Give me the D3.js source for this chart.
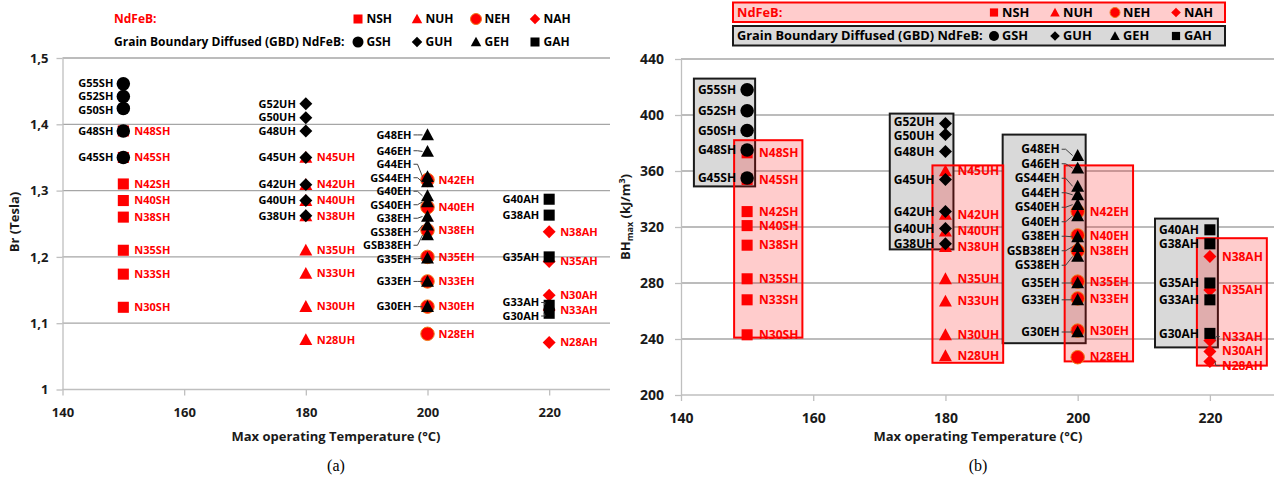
<!DOCTYPE html>
<html>
<head>
<meta charset="utf-8">
<script src="https://cdn.jsdelivr.net/npm/d3@7"></script>
<style>
  body { margin: 0; background: #fff; }
  svg { display: block; font-family: "Open Sans", "DejaVu Sans", sans-serif; }
</style>
</head>
<body>
<svg id="chart" width="1274" height="484"></svg>
<script>
// ---- Max operating temperature of each grade family (°C) ----
const tempSH = 150, tempUH = 180, tempEH = 200, tempAH = 220;

// ---- Conventional sintered NdFeB: remanence Br (T) and BHmax (kJ/m³) ----
const nshNames = ["N48SH", "N45SH", "N42SH", "N40SH", "N38SH", "N35SH", "N33SH", "N30SH"];
const nshBr = [1.39, 1.35, 1.31, 1.285, 1.26, 1.21, 1.174, 1.124];
const nshBH = [373, 354, 331, 321, 307, 283, 268, 243];

const nuhNames = ["N45UH", "N42UH", "N40UH", "N38UH", "N35UH", "N33UH", "N30UH", "N28UH"];
const nuhBr = [1.35, 1.309, 1.285, 1.262, 1.21, 1.175, 1.125, 1.075];
const nuhBH = [360, 329, 317, 306, 283, 267, 243, 228];

const nehNames = ["N42EH", "N40EH", "N38EH", "N35EH", "N33EH", "N30EH", "N28EH"];
const nehBr = [1.316, 1.275, 1.24, 1.2, 1.163, 1.125, 1.084];
const nehBH = [331, 314, 303, 281, 269, 246, 227];

const nahNames = ["N38AH", "N35AH", "N33AH", "N30AH", "N28AH"];
const nahBr = [1.238, 1.193, 1.12, 1.142, 1.071];
const nahBH = [299, 275, 239, 231, 224];

// ---- Grain boundary diffused (GBD) NdFeB ----
const gshNames = ["G55SH", "G52SH", "G50SH", "G48SH", "G45SH"];
const gshBr = [1.461, 1.442, 1.424, 1.39, 1.35];
const gshBH = [418, 403, 389, 375, 355];

const guhNames = ["G52UH", "G50UH", "G48UH", "G45UH", "G42UH", "G40UH", "G38UH"];
const guhBr = [1.431, 1.41, 1.39, 1.35, 1.309, 1.285, 1.262];
const guhBH = [394, 386, 374, 354, 331, 319, 308];

const gehNames = ["G48EH", "G46EH", "G44EH", "GS44EH", "G40EH", "GS40EH", "G38EH", "GS38EH", "GSB38EH", "G35EH", "G33EH", "G30EH"];
const gehBr = [1.384, 1.359, 1.321, 1.313, 1.292, 1.283, 1.261, 1.248, 1.233, 1.198, 1.163, 1.125];
const gehBH = [371, 362, 343, 349, 328, 336, 313, 299, 306, 280, 268, 245];

const gahNames = ["G40AH", "G38AH", "G35AH", "G33AH", "G30AH"];
const gahBr = [1.287, 1.263, 1.2, 1.127, 1.115];
const gahBH = [318, 308, 280, 268, 244];

// ---- BHmax span (kJ/m³) enclosed by each family's group box ----
const nshRange = [241, 382], nuhRange = [223, 364], nehRange = [224, 364], nahRange = [221, 312];
const gshRange = [349, 426], guhRange = [304, 401], gehRange = [237, 386], gahRange = [234, 326];

// ---- Axis ticks ----
const tempTicks = [140, 160, 180, 200, 220];
const brTicks = [1, 1.1, 1.2, 1.3, 1.4, 1.5];
const bhTicks = [200, 240, 280, 320, 360, 400, 440];

// ---- Legend entries ----
const ndLegend = ["NSH", "NUH", "NEH", "NAH"];
const ndShapes = ["square", "triangle", "circle", "diamond"];
const gbdLegend = ["GSH", "GUH", "GEH", "GAH"];
const gbdShapes = ["circle", "diamond", "triangle", "square"];

const RED = "#ff0000";
const BLACK = "#000000";

const families = [
  { code: "NSH", gbd: false, temp: tempSH, shape: "square",   names: nshNames, br: nshBr, bh: nshBH, range: nshRange },
  { code: "NUH", gbd: false, temp: tempUH, shape: "triangle", names: nuhNames, br: nuhBr, bh: nuhBH, range: nuhRange },
  { code: "NEH", gbd: false, temp: tempEH, shape: "circle",   names: nehNames, br: nehBr, bh: nehBH, range: nehRange },
  { code: "NAH", gbd: false, temp: tempAH, shape: "diamond",  names: nahNames, br: nahBr, bh: nahBH, range: nahRange },
  { code: "GSH", gbd: true,  temp: tempSH, shape: "circle",   names: gshNames, br: gshBr, bh: gshBH, range: gshRange },
  { code: "GUH", gbd: true,  temp: tempUH, shape: "diamond",  names: guhNames, br: guhBr, bh: guhBH, range: guhRange },
  { code: "GEH", gbd: true,  temp: tempEH, shape: "triangle", names: gehNames, br: gehBr, bh: gehBH, range: gehRange, leader: true },
  { code: "GAH", gbd: true,  temp: tempAH, shape: "square",   names: gahNames, br: gahBr, bh: gahBH, range: gahRange }
];

// marker path for a shape; size is roughly the circle diameter in px
function markerPath(shape, size) {
  if (shape === "circle") {
    const r = size / 2;
    return d3.symbol(d3.symbolCircle, Math.PI * r * r)();
  }
  if (shape === "square") {
    const h = size * 0.41;
    return `M${-h},${-h}H${h}V${h}H${-h}Z`;
  }
  if (shape === "diamond") {
    const h = size * 0.48;
    return `M0,${-h}L${h},0L0,${h}L${-h},0Z`;
  }
  // triangle, base at bottom
  const h = size * 0.48, th = size * 0.88;
  return `M0,${-th * 0.55}L${h},${th * 0.45}L${-h},${th * 0.45}Z`;
}

function markerStyle(sel, fam) {
  const isNeh = !fam.gbd && fam.shape === "circle";
  sel.attr("fill", fam.gbd ? BLACK : RED)
     .attr("stroke", isNeh ? "#f07a1a" : "none")
     .attr("stroke-width", isNeh ? 1 : 0);
}

// least-squares spreading of labels so they keep a minimum vertical gap
function spread(items, gap) {
  const sorted = items.slice().sort((a, b) => a.y0 - b.y0);
  const clusters = [];
  for (const it of sorted) {
    clusters.push({ m: [it], top: it.y0 });
    while (clusters.length > 1) {
      const b = clusters[clusters.length - 1], a = clusters[clusters.length - 2];
      if (a.top + a.m.length * gap > b.top) {
        const m = a.m.concat(b.m);
        const top = d3.mean(m, (d, i) => d.y0 - i * gap);
        clusters.splice(-2, 2, { m, top });
      } else break;
    }
  }
  clusters.forEach(c => c.m.forEach((d, i) => { d.y = c.top + i * gap; }));
}

const svg = d3.select("#chart");
svg.append("rect").attr("width", 1274).attr("height", 484).attr("fill", "#fff");

const brFmt = d3.formatLocale({ decimal: ",", thousands: " ", grouping: [3], currency: ["", ""] }).format(".2~f");

const panels = [
  {
    key: "br", xr: [62.5, 610], yr: [389.5, 58], ydom: [1, 1.5], ticks: brTicks, fmt: brFmt,
    labelSize: 11, spacing: 13.5, gapG: 10, gapN: 11, gapLeader: 16, markerSize: 13.5,
    tickSize: 13, tickPadY: 8, tickPadX: 18, boxes: false,
    xTitle: { x: 336, y: 441 }, caption: { x: 336, y: 471, text: "(a)" },
    yTitle: { x: 19, y: 222 }
  },
  {
    key: "bh", xr: [681, 1276], yr: [395, 59], ydom: [200, 440], ticks: bhTicks, fmt: d3.format("d"),
    labelSize: 12, spacing: 14.5, gapG: 11, gapN: 12, gapLeader: 18, markerSize: 13.5,
    tickSize: 14, tickPadY: 11, tickPadX: 18, boxes: true,
    xTitle: { x: 978, y: 441 }, caption: { x: 978, y: 471, text: "(b)" },
    yTitle: { x: 630, y: 217 }
  }
];

panels.forEach(p => {
  const x = d3.scaleLinear().domain([140, 230]).range(p.xr);
  const y = d3.scaleLinear().domain(p.ydom).range(p.yr);
  const g = svg.append("g");

  // horizontal gridlines
  g.append("g").selectAll("line")
    .data(p.ticks.filter(t => t > p.ydom[0]))
    .join("line")
    .attr("x1", p.xr[0]).attr("x2", p.xr[1])
    .attr("y1", d => y(d)).attr("y2", d => y(d))
    .attr("stroke", "#a6a6a6").attr("stroke-width", 1.3);

  // axes
  const yAxis = g.append("g").attr("transform", `translate(${p.xr[0]},0)`)
    .call(d3.axisLeft(y).tickValues(p.ticks).tickFormat(p.fmt).tickSize(6).tickSizeOuter(0).tickPadding(p.tickPadY));
  const xAxis = g.append("g").attr("transform", `translate(0,${p.yr[0]})`)
    .call(d3.axisBottom(x).tickValues(tempTicks).tickSize(6).tickSizeOuter(0).tickPadding(p.tickPadX - 6));
  [yAxis, xAxis].forEach(a => {
    a.select(".domain").attr("stroke", "#bfbfbf").attr("stroke-width", 1.3);
    a.selectAll(".tick line").attr("stroke", "#bfbfbf").attr("stroke-width", 1.3);
    a.selectAll(".tick text").attr("fill", "#1a1a1a").attr("font-weight", 700)
      .attr("font-size", p.tickSize).attr("font-family", '"Open Sans", sans-serif');
  });
  xAxis.select(".domain").attr("d", `M${p.xr[0]},0H${p.xr[1]}`);

  // layers
  const grayLayer = g.append("g");
  const redLayer = g.append("g");
  const nMarkLayer = g.append("g");
  const gMarkLayer = g.append("g");
  const leaderLayer = g.append("g");
  const labelLayer = g.append("g");

  families.forEach(fam => {
    const vals = fam[p.key];
    const mx = x(fam.temp);
    const items = fam.names.map((n, i) => ({ name: n, v: vals[i], y0: y(vals[i]) }));
    spread(items, p.spacing);

    // markers
    const markLayer = fam.gbd ? gMarkLayer : nMarkLayer;
    markLayer.selectAll(null).data(items).join("path")
      .attr("d", markerPath(fam.shape, p.markerSize))
      .attr("transform", d => `translate(${mx},${d.y0})`)
      .call(markerStyle, fam);

    // labels: GBD grades on the left of the marker, NdFeB grades on the right
    const gap = fam.leader ? p.gapLeader : (fam.gbd ? p.gapG : p.gapN);
    const lx = fam.gbd ? mx - gap : mx + gap;
    const texts = labelLayer.selectAll(null).data(items).join("text")
      .attr("x", lx).attr("y", d => d.y).attr("dy", "0.35em")
      .attr("text-anchor", fam.gbd ? "end" : "start")
      .attr("font-size", p.labelSize).attr("font-weight", 700)
      .attr("fill", fam.gbd ? BLACK : RED)
      .text(d => d.name);

    // leader lines for displaced labels
    items.forEach(d => {
      if (fam.leader || Math.abs(d.y - d.y0) > 2.5) {
        const sx = fam.gbd ? lx + 2 : lx - 2;
        const dir = fam.gbd ? 1 : -1;
        leaderLayer.append("path")
          .attr("d", `M${sx},${d.y}L${sx + dir * 4},${d.y}L${mx - dir * 5},${d.y0}`)
          .attr("fill", "none").attr("stroke", "#404040").attr("stroke-width", 1);
      }
    });

    // group boxes
    if (p.boxes) {
      const boxes = texts.nodes().map(n => n.getBBox());
      const top = y(fam.range[1]), bottom = y(fam.range[0]);
      if (fam.gbd) {
        const left = d3.min(boxes, b => b.x) - 4;
        grayLayer.append("rect")
          .attr("x", left).attr("y", top).attr("width", mx + 8 - left).attr("height", bottom - top)
          .attr("fill", "#d9d9d9").attr("stroke", "#1a1a1a").attr("stroke-width", 2);
      } else {
        const right = d3.max(boxes, b => b.x + b.width) + 4;
        redLayer.append("rect")
          .attr("x", mx - 13).attr("y", top).attr("width", right - mx + 13).attr("height", bottom - top)
          .attr("fill", RED).attr("fill-opacity", 0.2).attr("stroke", RED).attr("stroke-width", 2);
      }
    }
  });

  // axis titles and caption
  g.append("text").attr("x", p.xTitle.x).attr("y", p.xTitle.y).attr("text-anchor", "middle")
    .attr("font-size", 13).attr("font-weight", 700).attr("fill", "#1a1a1a")
    .text("Max operating Temperature (°C)");
  g.append("text").attr("x", p.caption.x).attr("y", p.caption.y).attr("text-anchor", "middle")
    .attr("font-size", 16).attr("font-family", '"Liberation Serif", serif').attr("fill", "#000")
    .text(p.caption.text);

  const yt = g.append("text").attr("transform", `translate(${p.yTitle.x},${p.yTitle.y}) rotate(-90)`)
    .attr("text-anchor", "middle").attr("font-size", 13).attr("font-weight", 700).attr("fill", "#1a1a1a");
  if (p.key === "br") {
    yt.text("Br (Tesla)");
  } else {
    yt.append("tspan").text("BH");
    yt.append("tspan").attr("font-size", 9).attr("dy", 3).text("max");
    yt.append("tspan").attr("dy", -3).text(" (kJ/m");
    yt.append("tspan").attr("font-size", 9).attr("dy", -5).text("3");
    yt.append("tspan").attr("dy", 5).text(")");
  }
});

// ---- Legends ----
function legendRow(g, title, titleColor, codes, shapes, color, cfg) {
  g.append("text").attr("x", cfg.x).attr("y", cfg.y).attr("dy", "0.35em")
    .attr("font-size", cfg.size).attr("font-weight", 700).attr("fill", titleColor).text(title);
  codes.forEach((c, i) => {
    const mx = cfg.cols[i];
    const neh = c === "NEH";
    g.append("path").attr("d", markerPath(shapes[i], cfg.mark))
      .attr("transform", `translate(${mx},${cfg.y})`)
      .attr("fill", color).attr("stroke", neh ? "#f07a1a" : "none");
    g.append("text").attr("x", mx + cfg.mark / 2 + 3).attr("y", cfg.y).attr("dy", "0.35em")
      .attr("font-size", cfg.size).attr("font-weight", 700).attr("fill", "#000").text(c);
  });
}

// panel (a) legend, plain text
const legA = svg.append("g");
legendRow(legA, "NdFeB:", RED, ndLegend, ndShapes, RED,
  { x: 114, y: 19, size: 12, mark: 11, cols: [358, 417, 476, 535] });
legendRow(legA, "Grain Boundary Diffused (GBD) NdFeB:", "#000", gbdLegend, gbdShapes, BLACK,
  { x: 114, y: 42, size: 12, mark: 11, cols: [358, 417, 476, 535] });

// panel (b) legend, boxed rows
const legB = svg.append("g");
legB.append("rect").attr("x", 733).attr("y", 2.5).attr("width", 492).attr("height", 19.5)
  .attr("fill", "#ffcccc").attr("stroke", RED).attr("stroke-width", 2);
legB.append("rect").attr("x", 733).attr("y", 26).attr("width", 492).attr("height", 19.5)
  .attr("fill", "#d9d9d9").attr("stroke", "#1a1a1a").attr("stroke-width", 2);
legendRow(legB, "NdFeB:", RED, ndLegend, ndShapes, RED,
  { x: 737, y: 12.5, size: 12.8, mark: 10, cols: [994, 1055, 1115, 1176] });
legendRow(legB, "Grain Boundary Diffused (GBD) NdFeB:", "#000", gbdLegend, gbdShapes, BLACK,
  { x: 737, y: 36, size: 12.8, mark: 10, cols: [994, 1055, 1115, 1176] });
</script>
</body>
</html>
